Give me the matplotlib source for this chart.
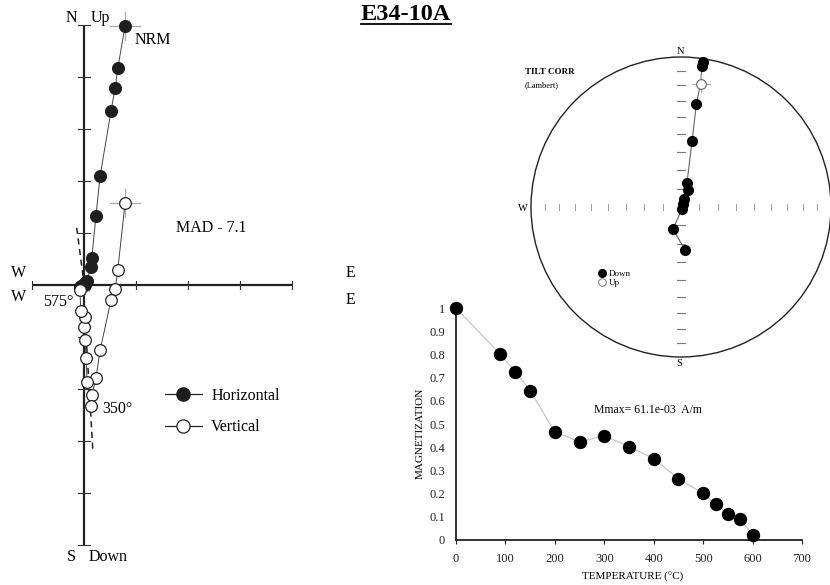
import numpy as np
import matplotlib
matplotlib.use("Agg")
import matplotlib.pyplot as plt
from matplotlib.lines import Line2D
from matplotlib.patches import Circle

plt.rcParams['font.family'] = ['Liberation Serif', 'DejaVu Serif']

W, H = 830, 585

# ---------------- data ----------------
# Zijderveld vector components per demagnetisation step (plot units)
steps = [0, 90, 120, 150, 200, 250, 300, 350, 400, 450, 500, 525, 550, 575, 600]
east = [0.79, 0.65, 0.60, 0.52, 0.31, 0.23, 0.15, 0.13, 0.06, 0.04, 0.02, 0.00, 0.02, -0.06, -0.08]
north = [4.98, 4.17, 3.79, 3.35, 2.10, 1.33, 0.52, 0.35, 0.08, 0.06, 0.04, 0.02, 0.00, -0.02, -0.04]
up = [1.58, 0.29, -0.08, -0.29, -1.25, -1.79, -2.12, -2.33, -1.87, -1.40, -1.06, -0.81, -0.62, -0.50, -0.10]
fit_h_east = [-0.14, 0.01]
fit_h_north = [1.10, -0.05]
fit_v_east = [-0.02, 0.17]
fit_v_up = [0.05, -3.18]
z_xticks = [-1, 1, 2, 3, 4]
z_yticks = [-5, -4, -3, -2, -1, 1, 2, 3, 4, 5]

# Stereonet directions (declination, inclination; negative = up)
stereo_dec = [8.6, 8.5, 9.0, 8.5, 9.5, 14.0, 22.4, 20.6, 33.7, 153.0, 200.0, 174.7]
stereo_inc = [2.5, 5.5, -17.8, 30.9, 53.2, 76.6, 80.1, 85.4, 88.1, 88.8, 77.3, 66.5]
stereo_ticks_inc = [80, 70, 60, 50, 40, 30, 20, 10]

# Demagnetisation curve
demag_temp = [0, 90, 120, 150, 200, 250, 300, 350, 400, 450, 500, 525, 550, 575, 600]
demag_mag = [1.0, 0.80, 0.726, 0.644, 0.466, 0.424, 0.449, 0.403, 0.351, 0.264,
             0.201, 0.154, 0.114, 0.092, 0.022]
temp_ticks = [0, 100, 200, 300, 400, 500, 600, 700]
mag_ticks = [0, 0.1, 0.2, 0.3, 0.4, 0.5, 0.6, 0.7, 0.8, 0.9, 1.0]
mag_tick_labels = ['0', '0.1', '0.2', '0.3', '0.4', '0.5', '0.6', '0.7', '0.8', '0.9', '1']

# ---------------- figure ----------------
fig = plt.figure(figsize=(8.3, 5.85), dpi=100)


def rect(x0, y0, x1, y1):
    return [x0 / W, 1 - y1 / H, (x1 - x0) / W, (y1 - y0) / H]


def ftext(px, py, s, **kw):
    kw.setdefault('ha', 'center')
    kw.setdefault('va', 'center')
    return fig.text(px / W, 1 - py / H, s, **kw)


# ---- Zijderveld ----
unit, ox, oy = 52.0, 84.0, 285.0
axz = fig.add_axes(rect(0, 0, 400, 585))
axz.set_xlim((0 - ox) / unit, (400 - ox) / unit)
axz.set_ylim((oy - 585) / unit, oy / unit)
axz.axis('off')

axz.plot([-1, 4], [0, 0], color='#222', lw=1.6, zorder=1, solid_capstyle='butt')
axz.plot([0, 0], [-5, 5], color='#222', lw=1.6, zorder=1, solid_capstyle='butt')
for t in z_xticks:
    axz.plot([t, t], [-0.08, 0.08], color='#333', lw=0.8, zorder=1)
for t in z_yticks:
    axz.plot([-0.11, 0.11], [t, t], color='#333', lw=0.8, zorder=1)

axz.plot(fit_h_east, fit_h_north, color='#222', lw=1.1, ls=(0, (4, 3)), zorder=2)
axz.plot(fit_v_east, fit_v_up, color='#222', lw=1.1, ls=(0, (4, 3)), zorder=2)

# NRM crosshairs
for yy in (north[0], up[0]):
    axz.plot([east[0] - 0.29, east[0] + 0.29], [yy, yy], color='#aaa', lw=0.9, zorder=2)
    axz.plot([east[0], east[0]], [yy - 0.27, yy + 0.27], color='#aaa', lw=0.9, zorder=2)

axz.plot(east, north, '-', color='#444', lw=0.7, zorder=3)
axz.plot(east, north, 'o', ms=8.4, mfc='#1e1e1e', mec='#1e1e1e', zorder=4)
axz.plot(east, up, '-', color='#444', lw=0.7, zorder=3)
axz.plot(east, up, 'o', ms=8.4, mfc='white', mec='#222', mew=0.9, zorder=5)

zfs = 11.5
ftext(71, 18, 'N', fontsize=zfs)
ftext(100, 18, 'Up', fontsize=zfs)
ftext(153, 40, 'NRM', fontsize=zfs)
ftext(211, 228, 'MAD - 7.1', fontsize=zfs)
ftext(19, 273, 'W', fontsize=zfs)
ftext(19, 297, 'W', fontsize=zfs)
ftext(350, 273, 'E', fontsize=zfs)
ftext(350, 300, 'E', fontsize=zfs)
ftext(58, 302, '575°', fontsize=zfs)
ftext(117, 409, '350°', fontsize=zfs)
ftext(71, 557, 'S', fontsize=zfs)
ftext(108, 557, 'Down', fontsize=zfs)

hnd = [Line2D([], [], color='#222', lw=0.9, marker='o', ms=9.5, mfc='#1e1e1e', mec='#1e1e1e'),
       Line2D([], [], color='#222', lw=0.9, marker='o', ms=9.5, mfc='white', mec='#222', mew=0.9)]
fig.legend(hnd, ['Horizontal', 'Vertical'], loc='upper left',
           bbox_to_anchor=(157 / W, 1 - 380 / H), frameon=False, fontsize=zfs,
           handlelength=2.3, handletextpad=0.6, labelspacing=0.95, borderpad=0)

# ---- Demagnetisation curve (transparent background) ----
axm = fig.add_axes(rect(456, 305, 802, 540))
axm.set_facecolor('none')
axm.set_xlim(0, 700)
axm.set_ylim(0, 1.013)
for sp in ('top', 'right'):
    axm.spines[sp].set_visible(False)
for sp in ('left', 'bottom'):
    axm.spines[sp].set_linewidth(1.3)
    axm.spines[sp].set_color('#222')
axm.set_xticks(temp_ticks)
axm.set_yticks(mag_ticks)
axm.set_yticklabels(mag_tick_labels)
axm.tick_params(axis='x', direction='out', length=3, width=0.8, labelsize=9, pad=6, colors='#222')
axm.tick_params(axis='y', length=0, labelsize=9, pad=8, colors='#222')
axm.plot(demag_temp, demag_mag, '-', color='#c8c8c8', lw=0.9, zorder=2, clip_on=False)
axm.plot(demag_temp, demag_mag, 'o', ms=8.6, mfc='black', mec='black', zorder=3, clip_on=False)
axm.text(0.555, 0.555, 'Mmax= 61.1e-03  A/m', transform=axm.transAxes, ha='center', va='center',
         fontsize=8.5)
ftext(420, 433, 'MAGNETIZATION', fontsize=8, rotation=90)
ftext(633, 577, 'TEMPERATURE (°C)', fontsize=8)

# ---- Stereonet ----
R = 150.0
scx, scy = 681.0, 207.0
axs = fig.add_axes(rect(515, 40, 830, 375))
axs.set_facecolor('none')
axs.set_xlim((515 - scx) / R, (830 - scx) / R)
axs.set_ylim((scy - 375) / R, (scy - 40) / R)
axs.axis('off')
axs.add_patch(Circle((0, 0), 1.0, fill=False, ec='#222', lw=1.0, clip_on=False))


def lambert_r(inc):
    return np.sqrt(2) * np.sin(np.radians(90 - np.abs(np.asarray(inc, float))) / 2)


tr = lambert_r(stereo_ticks_inc)
for r in tr:
    for s in (-1, 1):
        axs.plot([s * r, s * r], [-0.022, 0.022], color='#999', lw=0.7)
        axs.plot([-0.028, 0.028], [s * r, s * r], color='#777', lw=0.8)

dec = np.radians(stereo_dec)
rr = lambert_r(stereo_inc)
sx = rr * np.sin(dec)
sy = rr * np.cos(dec)
inc_arr = np.asarray(stereo_inc)
down = inc_arr >= 0
axs.plot(sx, sy, '-', color='#666', lw=0.8, zorder=2)
for i in np.where(~down)[0]:
    axs.plot([sx[i] - 0.06, sx[i] + 0.06], [sy[i], sy[i]], color='#aaa', lw=0.8, zorder=2)
    axs.plot([sx[i], sx[i]], [sy[i] - 0.055, sy[i] + 0.055], color='#aaa', lw=0.8, zorder=2)
axs.plot(sx[down], sy[down], 'o', ms=7, mfc='black', mec='black', zorder=3)
axs.plot(sx[~down], sy[~down], 'o', ms=7, mfc='white', mec='#666', mew=0.8, zorder=3)

ftext(680, 51, 'N', fontsize=7.5)
ftext(523, 208, 'W', fontsize=7.5)
ftext(679, 363, 'S', fontsize=7.5)
ftext(525, 72, 'TILT CORR', fontsize=6.5, fontweight='bold', ha='left')
ftext(525, 85, '(Lambert)', fontsize=6, ha='left')
shnd = [Line2D([], [], ls='none', marker='o', ms=5.5, mfc='black', mec='black'),
        Line2D([], [], ls='none', marker='o', ms=5.5, mfc='white', mec='#777', mew=0.7)]
fig.legend(shnd, ['Down', 'Up'], loc='upper left', bbox_to_anchor=(595 / W, 1 - 265 / H),
           frameon=False, fontsize=6.5, handlelength=0.6, handletextpad=0.4,
           labelspacing=0.1, borderpad=0)

# ---- Title ----
t = ftext(406, 14, 'E34-10A', fontsize=17.5, fontweight='bold')
fig.canvas.draw()
bb = t.get_window_extent()
fig.add_artist(Line2D([bb.x0 / W, bb.x1 / W], [1 - 23.5 / H, 1 - 23.5 / H],
                      color='black', lw=1.3, transform=fig.transFigure))

fig.savefig('out.png', dpi=100)
